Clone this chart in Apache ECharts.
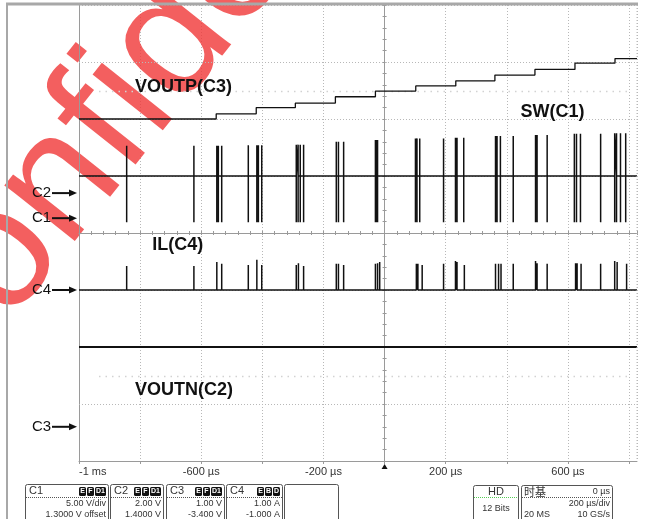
<!DOCTYPE html>
<html><head><meta charset="utf-8">
<script src="https://cdn.jsdelivr.net/npm/echarts@6/dist/echarts.min.js"></script>
<style>html,body{margin:0;padding:0;background:#fff}#c{width:651px;height:519px}</style>
</head><body><div id="c"></div>
<script>
// ---- time axis (µs) ----
const timeMin = -1000, timeMax = 826;
const timeTickLabels = {'-1000':'-1 ms','-600':'-600 µs','-200':'-200 µs','200':'200 µs','600':'600 µs'};

// ---- channel settings (scale per div, offset) ----
const channelNames = ['C1','C2','C3','C4'];
const channelScale = [5, 2, 1, 1];
const channelOffset = [1.3, 1.4, -3.4, -1.0];

// ---- VOUTP (C3), volts: step start times and levels ----
const voutpTimes  = [-1000, -551, -420, -292, -161, -30, 102, 233, 361, 492, 623, 754];
const voutpLevels = [5.40, 5.49, 5.60, 5.68, 5.79, 5.89, 5.98, 6.07, 6.17, 6.27, 6.38, 6.46];

// ---- SW (C1), volts ----
const swIdle = 3.7;
const swLow = -0.35;
const swPulseTimes = [-844,-624,-549,-544,-533,-446,-418,-413,-402,-289,-283,-276,-265,-158,-151,-134,-30,-26,-23,101,106,115,193,232,237,259,363,368,379,421,494,499,532,621,628,641,707,753,759,772,789];
const swPulseHigh  = [6.36,6.36,6.36,6.36,6.36,6.4,6.4,6.4,6.4,6.45,6.45,6.45,6.45,6.7,6.7,6.7,6.85,6.85,6.85,7.0,7.0,7.0,7.0,7.05,7.05,7.05,7.2,7.2,7.2,7.2,7.3,7.3,7.3,7.4,7.4,7.4,7.4,7.45,7.45,7.45,7.45];

// ---- IL (C4), amps ----
const ilIdle = 0;
const ilPulseTimes = [-844,-624,-549,-533,-446,-418,-402,-289,-282,-265,-158,-151,-134,-30,-23,-16,104,109,123,193,232,237,261,363,373,381,421,494,499,532,625,630,643,707,753,761,792];
const ilPulsePeak  = [0.42,0.42,0.49,0.46,0.44,0.53,0.44,0.44,0.47,0.42,0.46,0.46,0.44,0.46,0.47,0.49,0.46,0.46,0.44,0.46,0.51,0.49,0.44,0.46,0.46,0.46,0.46,0.51,0.47,0.46,0.47,0.47,0.46,0.46,0.51,0.49,0.46];

// ---- VOUTN (C2), volts ----
const voutnLevel = -5.4;

(function(){
// ---- build line data ----
const voutpData = voutpTimes.map((t,i)=>[t, voutpLevels[i]]).concat([[timeMax, voutpLevels[voutpLevels.length-1]]]);
function pulses(times, highs, idle, low){
  const d = [[timeMin, idle]];
  times.forEach((t,i)=>{ d.push([t, idle],[t, highs[i]]); if(low!==null) d.push([t, low]); d.push([t, idle]); });
  d.push([timeMax, idle]);
  return d;
}
const swData = pulses(swPulseTimes, swPulseHigh, swIdle, swLow);
const ilData = pulses(ilPulseTimes, ilPulsePeak, ilIdle, null);
const voutnData = [[timeMin, voutnLevel],[timeMax, voutnLevel]];

const GRID = '#9a9a9a', DOT = '#b8b8b8', TRACE = '#111';
const FONT = '"Liberation Sans", Arial, sans-serif';

const chart = echarts.init(document.getElementById('c'));
const chAxes = channelNames.map((n,i)=>({type:'value', show:false, min:-4*channelScale[i]-channelOffset[i], max:4*channelScale[i]-channelOffset[i]}));
const centerTickX = inside => ({type:'value', min:timeMin, max:timeMax, interval:40,
  axisLine:{show:true, onZero:true, onZeroAxisIndex:0, lineStyle:{color:GRID}},
  axisTick:{show:true, inside, length:2, lineStyle:{color:GRID}}, axisLabel:{show:false}, splitLine:{show:false}});
const centerTickY = inside => ({type:'value', min:-4, max:4, interval:0.2,
  axisLine:{show:true, onZero:true, onZeroAxisIndex:0, lineStyle:{color:GRID}},
  axisTick:{show:true, inside, length:2, lineStyle:{color:GRID}}, axisLabel:{show:false}, splitLine:{show:false}});

chart.setOption({
  animation:false,
  backgroundColor:'#fff',
  grid:{left:79, right:14, top:5, bottom:58},
  xAxis:[
    {type:'value', min:timeMin, max:timeMax, interval:200,
      axisLine:{onZero:false, lineStyle:{color:GRID}},
      axisTick:{show:true, length:3, lineStyle:{color:GRID}},
      splitLine:{show:true, lineStyle:{color:DOT, type:[1,2]}},
      axisLabel:{formatter:v=>timeTickLabels[String(v)]||'', fontSize:11, color:'#333', fontFamily:FONT, margin:5, showMaxLabel:false, alignMinLabel:'left', hideOverlap:false}},
    centerTickX(true), centerTickX(false)
  ],
  yAxis:[
    {type:'value', min:-4, max:4, interval:1,
      axisLine:{show:true, onZero:false, lineStyle:{color:GRID}},
      axisTick:{show:false}, axisLabel:{show:false},
      splitLine:{show:true, lineStyle:{color:DOT, type:[1,2]}}},
    ...chAxes,
    centerTickY(true), centerTickY(false)
  ],
  series:[
    {type:'line', name:'VOUTN', xAxisIndex:0, yAxisIndex:2, data:voutnData, showSymbol:false, silent:true, lineStyle:{color:TRACE, width:2}},
    {type:'line', name:'VOUTP', xAxisIndex:0, yAxisIndex:3, data:voutpData, step:'end', showSymbol:false, silent:true, lineStyle:{color:TRACE, width:1.3}},
    {type:'line', name:'IL', xAxisIndex:0, yAxisIndex:4, data:ilData, showSymbol:false, silent:true, lineStyle:{color:TRACE, width:1.5}},
    {type:'line', name:'SW', xAxisIndex:0, yAxisIndex:1, data:swData, showSymbol:false, silent:true, lineStyle:{color:TRACE, width:1.5}}
  ]
});

// ---- decorations tied to scales ----
const g = [];
const px = (yAxisIndex, t, v) => chart.convertToPixel({xAxisIndex:0, yAxisIndex}, [t, v]);
const pLeft = px(0, timeMin, 0)[0], pRight = px(0, timeMax, 0)[0];
const pTop = px(0, 0, 4)[1], pBottom = px(0, 0, -4)[1];

// horizontal dotted grid lines (pixel-aligned)
for(let k=-3;k<=3;k++){ if(k===0) continue; const y = Math.round(px(0,0,k)[1])+0.5;
  g.push({type:'line', shape:{x1:pLeft, y1:y, x2:pRight, y2:y}, style:{stroke:DOT, lineWidth:1, lineDash:[1,2]}, z:1, silent:true}); }
// faint persistence dot rows
[2.5, -2.5].forEach(k=>{ const y = Math.round(px(0,0,k)[1])+0.5;
  g.push({type:'line', shape:{x1:pLeft+20, y1:y, x2:pRight-10, y2:y}, style:{stroke:'#d2d2d2', lineWidth:1.5, lineDash:[1.5,5]}, z:1, silent:true}); });

// watermark
g.push({type:'text', x:-38, y:444, rotation:51.5*Math.PI/180, z:0, silent:true,
  style:{text:'Confidential', font:'170px "Liberation Sans"', fill:'rgba(240,55,55,0.8)', verticalAlign:'bottom'}});

// screen frame
g.push({type:'line', shape:{x1:7, y1:4, x2:7, y2:519}, style:{stroke:'#a8a8a8', lineWidth:2}, z:5});
g.push({type:'line', shape:{x1:6, y1:4, x2:pRight+1, y2:4}, style:{stroke:'#a8a8a8', lineWidth:3}, z:5});
g.push({type:'line', shape:{x1:pRight, y1:pTop, x2:pRight, y2:pBottom}, style:{stroke:DOT, lineWidth:1, lineDash:[1,2]}, z:5});

// channel ground markers
[1,0,3,2].forEach(i=>{
  const y = px(i+1, timeMin, 0)[1];
  g.push({type:'text', x:pLeft-47, y:y, z:10, style:{text:channelNames[i], font:'15px '+FONT, fill:'#111', verticalAlign:'middle'}});
  g.push({type:'line', shape:{x1:pLeft-27, y1:y, x2:pLeft-8, y2:y}, style:{stroke:'#111', lineWidth:2}, z:10});
  g.push({type:'polygon', shape:{points:[[pLeft-10,y-3.5],[pLeft-2,y],[pLeft-10,y+3.5]]}, style:{fill:'#111'}, z:10});
});

// trace labels
const lbl = (text, t, yAx, v) => { const p = px(yAx, t, v); g.push({type:'text', x:p[0], y:p[1], z:10, style:{text, font:'bold 18px '+FONT, fill:'#111', verticalAlign:'middle'}}); };
lbl('VOUTP(C3)', -817, 3, 5.96);
lbl('SW(C1)', 445, 1, 9.3);
lbl('IL(C4)', -760, 4, 0.79);
lbl('VOUTN(C2)', -817, 2, -6.9);

// trigger marker
const tp = px(0, 0, -4);
g.push({type:'polygon', shape:{points:[[tp[0]-3,tp[1]+8],[tp[0],tp[1]+3],[tp[0]+3,tp[1]+8]]}, style:{fill:'#111'}, z:10});

// bottom channel panel
const boxes = [
  {x:25, w:83, name:'C1', badges:['E','F','D1'], r1:'5.00 V/div', r2:'1.3000 V offset'},
  {x:110, w:53, name:'C2', badges:['E','F','D1'], r1:'2.00 V', r2:'1.4000 V'},
  {x:166, w:58, name:'C3', badges:['E','F','D1'], r1:'1.00 V', r2:'-3.400 V'},
  {x:226, w:56, name:'C4', badges:['E','B','D'], r1:'1.00 A', r2:'-1.000 A'},
  {x:284, w:54, name:'', badges:[], r1:'', r2:''}
];
const BY = 484;
boxes.forEach(b=>{
  g.push({type:'rect', shape:{x:b.x+0.5, y:BY+0.5, width:b.w, height:40, r:2}, style:{fill:'#fff', stroke:'#555', lineWidth:1}, z:10});
  if(!b.name) return;
  g.push({type:'text', x:b.x+4, y:BY+7, z:11, style:{text:b.name, font:'11px '+FONT, fill:'#333', verticalAlign:'middle'}});
  let bx = b.x + b.w - 2;
  for(let k=b.badges.length-1;k>=0;k--){
    const w = b.badges[k].length>1 ? 11 : 7;
    bx -= w;
    g.push({type:'rect', shape:{x:bx, y:BY+3, width:w, height:9, r:1.5}, style:{fill:'#111'}, z:11});
    g.push({type:'text', x:bx+w/2, y:BY+7.5, z:12, style:{text:b.badges[k], font:'bold 7px '+FONT, fill:'#fff', align:'center', verticalAlign:'middle'}});
    bx -= 1;
  }
  g.push({type:'line', shape:{x1:b.x+1, y1:BY+13.5, x2:b.x+b.w, y2:BY+13.5}, style:{stroke:'#555', lineWidth:1, lineDash:[1,1]}, z:11});
  g.push({type:'text', x:b.x+b.w-2, y:BY+19.5, z:11, style:{text:b.r1, font:'9px '+FONT, fill:'#333', align:'right', verticalAlign:'middle'}});
  g.push({type:'text', x:b.x+b.w-2, y:BY+31, z:11, style:{text:b.r2, font:'9px '+FONT, fill:'#333', align:'right', verticalAlign:'middle'}});
});
// HD box
g.push({type:'rect', shape:{x:473.5, y:485.5, width:45, height:40, r:2}, style:{fill:'#fff', stroke:'#555', lineWidth:1}, z:10});
g.push({type:'text', x:496, y:492, z:11, style:{text:'HD', font:'11px '+FONT, fill:'#333', align:'center', verticalAlign:'middle'}});
g.push({type:'line', shape:{x1:474, y1:497.5, x2:518, y2:497.5}, style:{stroke:'#5c5', lineWidth:1, lineDash:[1,1]}, z:11});
g.push({type:'text', x:496, y:509, z:11, style:{text:'12 Bits', font:'9px '+FONT, fill:'#333', align:'center', verticalAlign:'middle'}});
// timebase box
g.push({type:'rect', shape:{x:521.5, y:485.5, width:91, height:40, r:2}, style:{fill:'#fff', stroke:'#555', lineWidth:1}, z:10});
g.push({type:'text', x:524, y:492, z:11, style:{text:'时基', font:'11px "Noto Sans CJK SC"', fill:'#333', verticalAlign:'middle'}});
g.push({type:'text', x:610, y:492, z:11, style:{text:'0 µs', font:'9px '+FONT, fill:'#333', align:'right', verticalAlign:'middle'}});
g.push({type:'line', shape:{x1:522, y1:497.5, x2:612, y2:497.5}, style:{stroke:'#555', lineWidth:1, lineDash:[1,1]}, z:11});
g.push({type:'text', x:610, y:503.5, z:11, style:{text:'200 µs/div', font:'9px '+FONT, fill:'#333', align:'right', verticalAlign:'middle'}});
g.push({type:'text', x:524, y:515, z:11, style:{text:'20 MS', font:'9px '+FONT, fill:'#333', verticalAlign:'middle'}});
g.push({type:'text', x:610, y:515, z:11, style:{text:'10 GS/s', font:'9px '+FONT, fill:'#333', align:'right', verticalAlign:'middle'}});

chart.setOption({graphic:{elements:g}});
})();
</script></body></html>
